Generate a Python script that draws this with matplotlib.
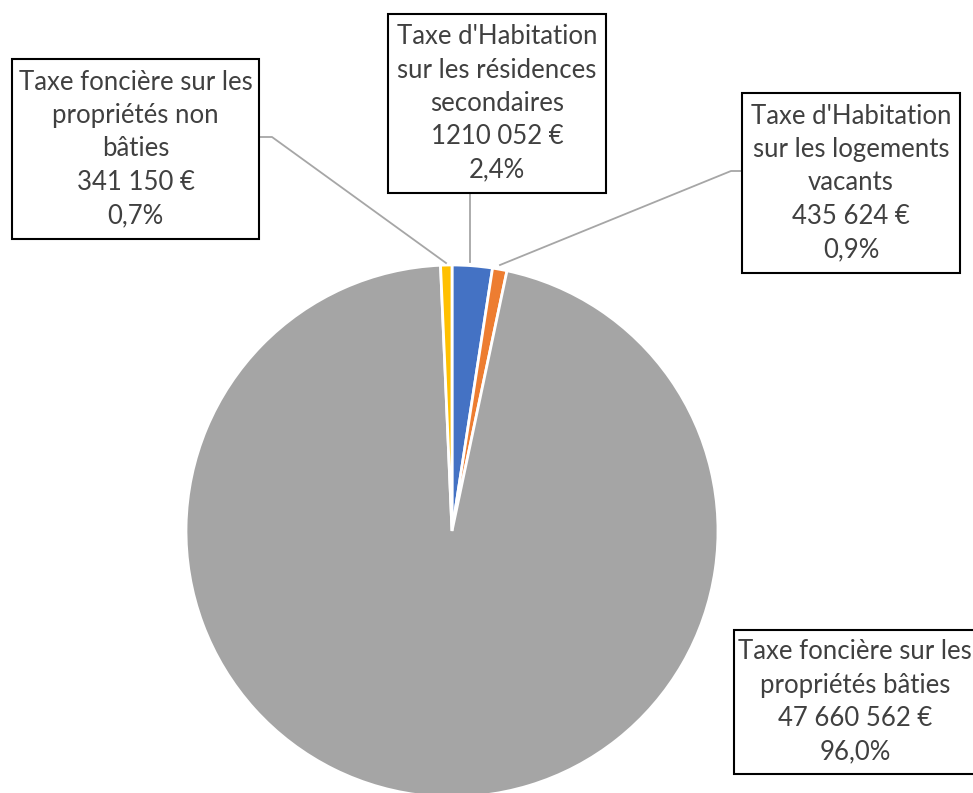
import matplotlib.pyplot as plt
from matplotlib.patches import Rectangle

# slice data, clockwise from the top
categories = [
    "Taxe d'Habitation\nsur les résidences\nsecondaires",
    "Taxe d'Habitation\nsur les logements\nvacants",
    "Taxe foncière sur les\npropriétés bâties",
    "Taxe foncière sur les\npropriétés non\nbâties",
]
amounts = [1210052, 435624, 47660562, 341150]
amount_labels = ["1210 052 €", "435 624 €", "47 660 562 €", "341 150 €"]
colors = ["#4472C4", "#ED7D31", "#A5A5A5", "#FFC000"]

W, H = 973, 793

# label boxes in pixel coords (left, top, right, bottom), y measured from the top
boxes = [
    (388, 14, 606, 193),
    (742, 93, 960, 273),
    (734, 630, 990, 774),
    (12, 59, 259, 239),
]
# leader lines (pixel coords), None for no line
leaders = [
    [(470, 193), (470, 262)],
    [(742, 171), (731, 171), (500, 265)],
    None,
    [(260, 137), (272, 137), (446, 263)],
]

fig = plt.figure(figsize=(W / 100, H / 100), dpi=100)
ax = fig.add_axes([0, 0, 1, 1])

total = sum(amounts)
ax.pie(
    amounts,
    colors=colors,
    startangle=90,
    counterclock=False,
    center=(452, H - 531),
    radius=266,
    explode=[0.015, 0.015, 0, 0.015],
    wedgeprops=dict(edgecolor="white", linewidth=2),
    frame=True,
)
ax.set_xlim(0, W)
ax.set_ylim(0, H)
ax.set_aspect("equal")
ax.axis("off")

for cat, amt, amt_lbl, box, lead in zip(categories, amounts, amount_labels, boxes, leaders):
    x0, y0, x1, y1 = box
    ax.add_patch(Rectangle((x0, H - y1), x1 - x0, y1 - y0, facecolor="white",
                           edgecolor="black", linewidth=1.5, zorder=3))
    pct = f"{amt / total * 100:.1f}%".replace(".", ",")
    txt = f"{cat}\n{amt_lbl}\n{pct}"
    cx = (x0 + x1) / 2 if x1 <= W else 855
    ax.text(cx, H - (y0 + y1) / 2, txt, ha="center", va="center",
            fontsize=18.5, family="Lato", color="#404040", linespacing=1.42, zorder=4)
    if lead:
        xs = [p[0] for p in lead]
        ys = [H - p[1] for p in lead]
        ax.plot(xs, ys, color="#A6A6A6", linewidth=1.3, zorder=2)

plt.savefig("out.png", dpi=100)
